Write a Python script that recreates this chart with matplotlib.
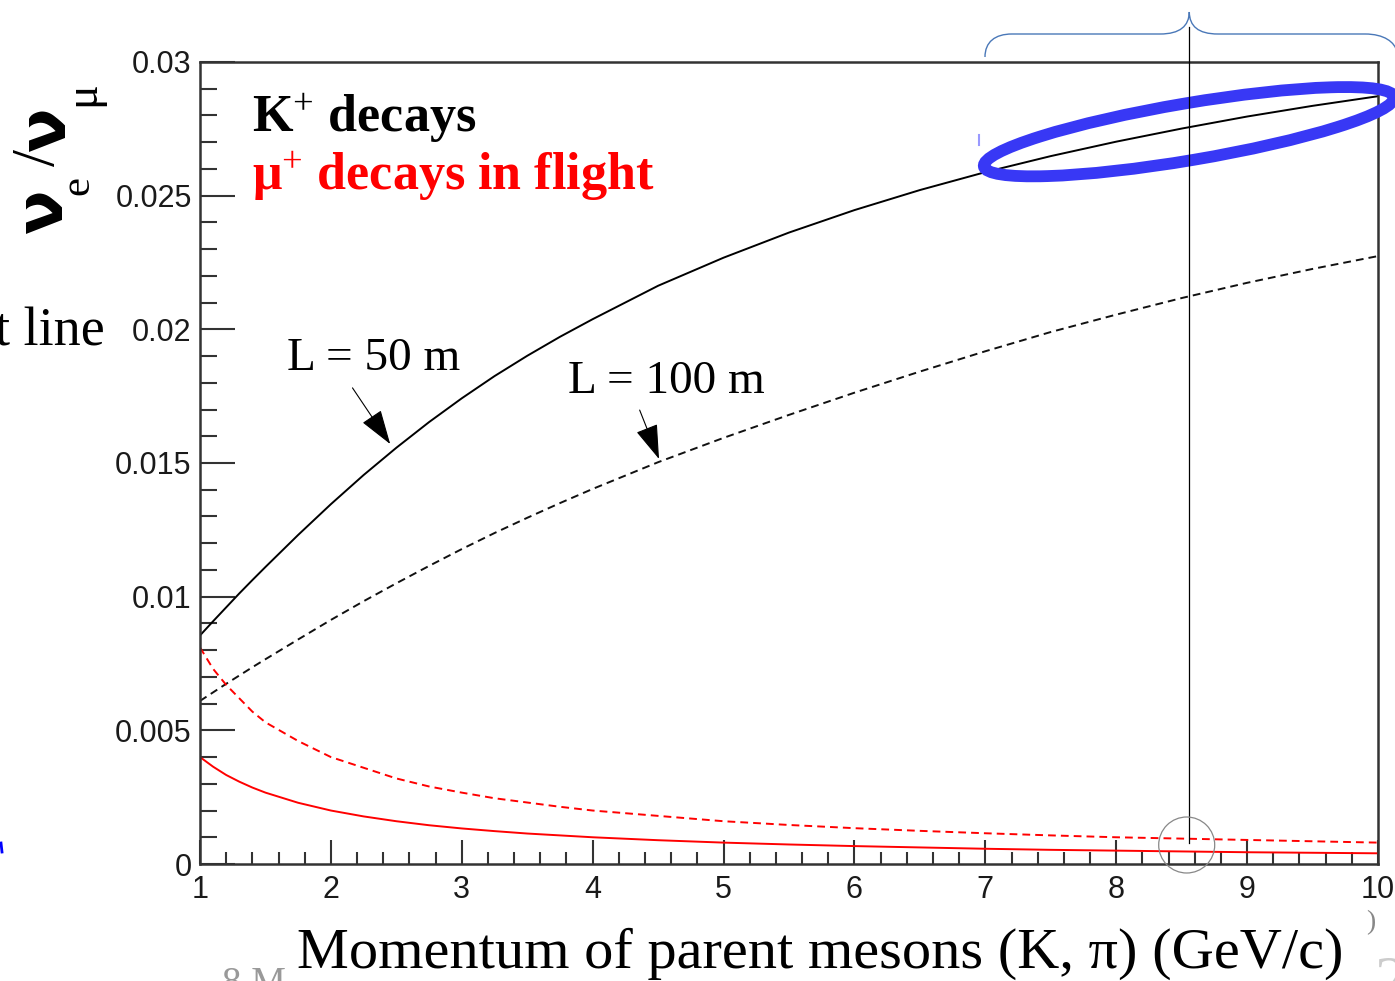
import matplotlib
matplotlib.use('Agg')
import matplotlib.pyplot as plt
from matplotlib.patches import Ellipse, Circle, PathPatch
from matplotlib.path import Path
from matplotlib.lines import Line2D
from matplotlib.transforms import IdentityTransform
from matplotlib.ticker import MultipleLocator, FuncFormatter

plt.rcParams['font.family'] = 'Liberation Sans'
plt.rcParams['mathtext.fontset'] = 'custom'
plt.rcParams['mathtext.rm'] = 'Liberation Serif'
plt.rcParams['mathtext.it'] = 'Liberation Serif:italic'
plt.rcParams['mathtext.bf'] = 'Liberation Serif:bold'

# parent meson momentum (GeV/c)
momentum = [1, 1.1, 1.2, 1.3, 1.4, 1.5, 1.75, 2, 2.25, 2.5, 2.75, 3, 3.25, 3.5, 3.75, 4,
            4.5, 5, 5.5, 6, 6.5, 7, 7.5, 8, 8.5, 9, 9.5, 10]

# nu_e / nu_mu from K+ decays
k_decay_50m = [0.00855, 0.00908, 0.0096, 0.01012, 0.01062, 0.01111, 0.01231, 0.01346,
               0.01455, 0.01557, 0.01653, 0.01742, 0.01825, 0.01901, 0.01972, 0.02038,
               0.02163, 0.02268, 0.02362, 0.02446, 0.02521, 0.02588, 0.02648, 0.02702,
               0.02751, 0.02796, 0.02836, 0.02872]
k_decay_100m = [0.0061, 0.00642, 0.00674, 0.00705, 0.00736, 0.00766, 0.0084, 0.00913,
                0.00983, 0.0105, 0.01115, 0.01178, 0.01238, 0.01295, 0.0135, 0.01403,
                0.01503, 0.01594, 0.0168, 0.01763, 0.01842, 0.01918, 0.0199, 0.02055,
                0.02117, 0.02174, 0.02226, 0.02274]

# nu_e / nu_mu from mu+ decays in flight
mu_decay_50m = [0.0040, 0.00364, 0.00333, 0.00308, 0.00286, 0.00267, 0.00229, 0.0020,
                0.00178, 0.0016, 0.00145, 0.00133, 0.00123, 0.00114, 0.00107, 0.0010,
                0.00089, 0.0008, 0.00073, 0.00067, 0.00062, 0.00057, 0.00053, 0.0005,
                0.00047, 0.00044, 0.00042, 0.0004]
mu_decay_100m = [0.0081, 0.0073, 0.0067, 0.0062, 0.0057, 0.0053, 0.0046, 0.0040,
                 0.0036, 0.0032, 0.0029, 0.00267, 0.00246, 0.0023, 0.00214, 0.0020,
                 0.0018, 0.0016, 0.00146, 0.00134, 0.00124, 0.00115, 0.00107, 0.0010,
                 0.00095, 0.0009, 0.00085, 0.0008]

W, H = 1395, 981
fig = plt.figure(figsize=(W / 100, H / 100), dpi=100)
ax = fig.add_axes([200 / W, (H - 864) / H, (1378 - 200) / W, (864 - 62) / H])


def ftext(px, py, s, **kw):
    # place text using pixel positions measured from the top left corner
    return fig.text(px / W, 1 - py / H, s, **kw)


def dpt(px, py):
    return (px, H - py)


dash = (0, (4, 2.6))
ax.plot(momentum, k_decay_50m, color='black', lw=1.4)
ax.plot(momentum, k_decay_100m, color='#111111', lw=1.4, linestyle=dash)
ax.plot(momentum, mu_decay_50m, color='#ff0000', lw=1.4)
ax.plot(momentum, mu_decay_100m, color='#ff0000', lw=1.4, linestyle=dash)

ax.set_xlim(1, 10)
ax.set_ylim(0, 0.03)
ax.xaxis.set_major_locator(MultipleLocator(1))
ax.xaxis.set_minor_locator(MultipleLocator(0.2))
ax.yaxis.set_major_locator(MultipleLocator(0.005))
ax.yaxis.set_minor_locator(MultipleLocator(0.001))
ax.yaxis.set_major_formatter(FuncFormatter(lambda v, _: '%g' % round(v, 4)))

for s in ax.spines.values():
    s.set_linewidth(1.8)
    s.set_color('#333333')
ax.tick_params(axis='y', which='major', direction='in', length=25, width=1.5,
               pad=6, labelsize=22, colors='#333333', labelcolor='#1a1a1a')
ax.tick_params(axis='y', which='minor', direction='in', length=12, width=1.5, colors='#333333')
ax.tick_params(axis='x', which='major', direction='in', length=17, width=1.5,
               pad=8, labelsize=22, colors='#333333', labelcolor='#1a1a1a')
ax.tick_params(axis='x', which='minor', direction='in', length=8.6, width=1.5, colors='#333333')

# curve labels with arrows
serif = 'Liberation Serif'
arrow = dict(arrowstyle='-|>,head_length=1.1,head_width=0.36', mutation_scale=20,
             lw=0.8, color='black', shrinkA=0, shrinkB=0)
ax.text(1.664, 0.01847, 'L = 50 m', family=serif, fontsize=34, va='baseline')
ax.annotate('', xy=(2.453, 0.01571), xytext=(2.165, 0.01781), arrowprops=arrow)
ax.text(3.815, 0.01762, 'L = 100 m', family=serif, fontsize=34, va='baseline')
ax.annotate('', xy=(4.507, 0.01515), xytext=(4.359, 0.01698), arrowprops=arrow)

ftext(252, 131.7, 'K$^{+}$ decays', family=serif, fontweight='bold', fontsize=37.5, va='baseline')
ftext(252, 190, 'μ$^{+}$ decays in flight', family=serif, fontweight='bold', fontsize=37.5,
      va='baseline', color='#ff0000')

# y axis title, built piece by piece
ftext(43.5, 211, 'ν', family='DejaVu Sans', fontweight='bold', fontsize=47,
      rotation=90, ha='center', va='center')
ftext(78, 185.5, 'e', family=serif, fontsize=31, rotation=90, ha='center', va='center')
ftext(39, 157, '/', family=serif, fontsize=44, rotation=90, ha='center', va='center')
ftext(46.5, 129, 'ν', family='DejaVu Sans', fontweight='bold', fontsize=47,
      rotation=90, ha='center', va='center')
ftext(82.5, 94, 'μ', family=serif, fontsize=33, rotation=90, ha='center', va='center')

ftext(820, 968, 'Momentum of parent mesons (K, π) (GeV/c)', family=serif, fontsize=42,
      ha='center', va='baseline')

# slide overlays
ftext(105, 345, 't line', family=serif, fontsize=39, ha='right', va='baseline')
ftext(222, 966, '8 M', family=serif, fontsize=28, color='#999999', va='top')
ftext(1371, 923, ')', family=serif, fontsize=20, color='#888888', ha='center', va='center')
ftext(1374, 1000, '2', family=serif, fontsize=46, color='#cccccc', va='baseline')

ring = Ellipse(dpt(1189, 131.7), width=416, height=57, angle=9.6, fill=False,
               lw=8.5, edgecolor='#3838f5', transform=IdentityTransform(), zorder=5)
fig.add_artist(ring)

fig.add_artist(Line2D([dpt(1189.3, 27)[0], dpt(1189.3, 843)[0]],
                      [dpt(1189.3, 27)[1], dpt(1189.3, 843)[1]],
                      color='black', lw=0.9, transform=IdentityTransform(), zorder=6))
fig.add_artist(Circle(dpt(1186.7, 845), 28, fill=False, edgecolor='#888888', lw=0.9,
                      transform=IdentityTransform(), zorder=6))

brace_pts = [(985, 57), (985, 42), (995, 34), (1012, 34),
             (1160, 34),
             (1180, 34), (1189, 26), (1189.3, 12),
             (1189.5, 26), (1198, 34), (1218, 34),
             (1365, 34),
             (1384, 34), (1395, 42), (1397, 52)]
codes = [Path.MOVETO, Path.CURVE4, Path.CURVE4, Path.CURVE4,
         Path.LINETO,
         Path.CURVE4, Path.CURVE4, Path.CURVE4,
         Path.CURVE4, Path.CURVE4, Path.CURVE4,
         Path.LINETO,
         Path.CURVE4, Path.CURVE4, Path.CURVE4]
brace = Path([dpt(x, y) for x, y in brace_pts], codes)
fig.add_artist(PathPatch(brace, fill=False, edgecolor='#4a78b8', lw=1.0,
                         transform=IdentityTransform(), zorder=6))

fig.add_artist(Line2D([979, 979], [H - 135, H - 145], color='#9999ff', lw=1.5,
                      transform=IdentityTransform()))
fig.add_artist(Line2D([1, 2], [H - 843, H - 852], color='#0000ff', lw=2,
                      transform=IdentityTransform()))

fig.savefig('out.png', dpi=100)
